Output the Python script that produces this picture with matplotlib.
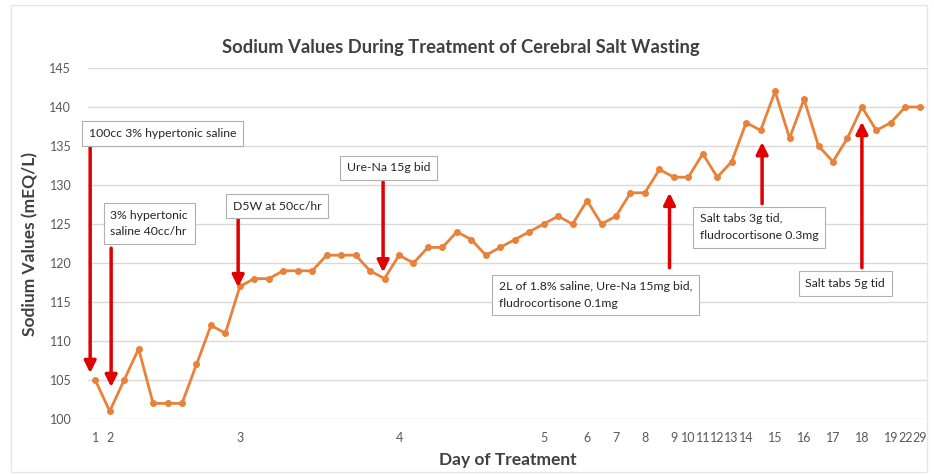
import matplotlib
matplotlib.use("Agg")
import matplotlib.pyplot as plt
from matplotlib.patches import Rectangle

# sodium readings (mEq/L), one per measurement, in order
sodium = [105, 101, 105, 109, 102, 102, 102, 107, 112, 111,
          117, 118, 118, 119, 119, 119, 121, 121, 121, 119,
          118, 121, 120, 122, 122, 124, 123, 121, 122, 123,
          124, 125, 126, 125, 128, 125, 126, 129, 129, 132,
          131, 131, 134, 131, 133, 138, 137, 142, 136, 141,
          135, 133, 136, 140, 137, 138, 140, 140]

# day labels and the measurement index they sit under
day_labels = ["1", "2", "3", "4", "5", "6", "7", "8", "9", "10", "11", "12",
              "13", "14", "15", "16", "17", "18", "19", "22", "29"]
day_index = [0, 1, 10, 21, 31, 34, 36, 38, 40, 41, 42, 43,
             44, 45, 47, 49, 51, 53, 55, 56, 57]

# treatment notes: text, text anchor (x, y), arrow x, arrow start y, arrow end y
notes = ["100cc 3% hypertonic saline",
         "3% hypertonic\nsaline 40cc/hr",
         "D5W at 50cc/hr",
         "Ure-Na 15g bid",
         "2L of 1.8% saline, Ure-Na 15mg bid,\nfludrocortisone 0.1mg",
         "Salt tabs 3g tid,\nfludrocortisone 0.3mg",
         "Salt tabs 5g tid"]
note_xy = [(-0.45, 136.6), (1.05, 125.1), (9.5, 127.3), (17.4, 132.2),
           (27.9, 115.9), (41.8, 124.6), (49.1, 117.4)]
arrow_x = [-0.35, 1.1, 9.88, 19.9, 39.7, 46.1, 53.0]
arrow_from = [135.4, 121.9, 125.8, 130.4, 119.4, 127.6, 119.4]
arrow_to = [105.9, 104.1, 116.9, 118.8, 129.0, 135.5, 138.1]

plt.rcParams["font.family"] = ["Lato", "DejaVu Sans"]

fig = plt.figure(figsize=(9.34, 4.74), dpi=100)
ax = fig.add_axes([88 / 934, 1 - 419 / 474, (927 - 88) / 934, (419 - 68) / 474])

x = list(range(len(sodium)))
ax.plot(x, sodium, color="#E8823A", lw=2, marker="o", ms=4, zorder=3)

ax.set_xlim(-0.5, len(sodium) - 0.5)
ax.set_ylim(100, 145)
ax.set_yticks(range(100, 146, 5))
ax.set_xticks(day_index)
ax.set_xticklabels(day_labels)
ax.tick_params(axis="both", length=0, labelsize=9, colors="#595959")
ax.tick_params(axis="y", pad=12)
ax.tick_params(axis="x", pad=9)
ax.grid(axis="y", color="#D9D9D9", lw=1)
ax.set_axisbelow(True)
for s in ax.spines.values():
    s.set_visible(False)

ax.set_ylabel("Sodium Values (mEQ/L)", fontsize=12.5, fontweight="bold",
              color="#404040", labelpad=8)
ax.set_xlabel("Day of Treatment", fontsize=12.5, fontweight="bold",
              color="#404040", labelpad=6)
fig.text(461 / 934, 1 - 48 / 474, "Sodium Values During Treatment of Cerebral Salt Wasting",
         ha="center", va="center", fontsize=13.2, fontweight="bold", color="#404040")

for txt, (tx, ty), ax_x, y0, y1 in zip(notes, note_xy, arrow_x, arrow_from, arrow_to):
    ax.text(tx, ty, txt, ha="left", va="center", fontsize=8.8, color="#262626",
            linespacing=1.6, zorder=5,
            bbox=dict(boxstyle="square,pad=0.55", fc="white", ec="#B0B0B0", lw=0.8))
    ax.annotate("", xy=(ax_x, y1), xytext=(ax_x, y0), zorder=4,
                arrowprops=dict(arrowstyle="-|>,head_width=0.35,head_length=0.7",
                                color="#E00000", lw=2.5, shrinkA=0, shrinkB=0))

fig.patches.append(Rectangle((11 / 934, 1 - 472 / 474), 916 / 934, 467 / 474,
                             transform=fig.transFigure, fill=False,
                             ec="#E6E6E6", lw=1))

fig.savefig("out.png", dpi=100)
